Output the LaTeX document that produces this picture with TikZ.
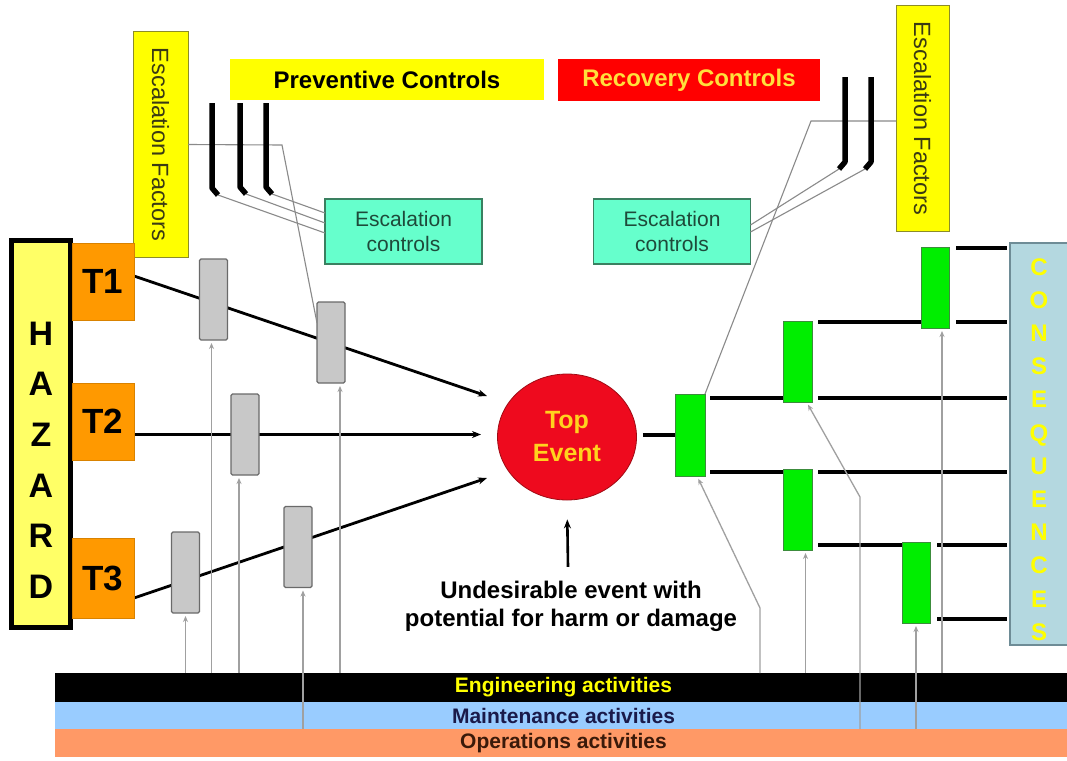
\documentclass[tikz,border=0pt]{standalone}
\usepackage{fontspec}
\setmainfont{Liberation Sans}
\usepackage{graphicx}
\usetikzlibrary{arrows.meta,shapes.geometric}
\pgfdeclarelayer{back}
\pgfdeclarelayer{bg}
\pgfsetlayers{back,bg,main}
\definecolor{yel}{HTML}{FFFF00}
\definecolor{yelbd}{HTML}{8C8C28}
\definecolor{eftxt}{HTML}{3A3A14}
\definecolor{hazfill}{HTML}{FFFF66}
\definecolor{orng}{HTML}{FF9900}
\definecolor{orngbd}{HTML}{D98200}
\definecolor{gbox}{HTML}{C8C8C8}
\definecolor{gboxbd}{HTML}{6A6A6A}
\definecolor{grn}{HTML}{00EE00}
\definecolor{grnbd}{HTML}{3C8C3C}
\definecolor{topred}{HTML}{EE0A1E}
\definecolor{topbd}{HTML}{A00A14}
\definecolor{toptxt}{HTML}{FFD21E}
\definecolor{recred}{HTML}{FF0000}
\definecolor{rectxt}{HTML}{FFE03C}
\definecolor{tealc}{HTML}{66FFCC}
\definecolor{tealbd}{HTML}{3A8060}
\definecolor{tealtxt}{HTML}{1E4A3A}
\definecolor{consc}{HTML}{B4D8E0}
\definecolor{consbd}{HTML}{6E8C96}
\definecolor{blueband}{HTML}{99CCFF}
\definecolor{salmon}{HTML}{FF9966}
\definecolor{lgray}{HTML}{A0A0A0}
\definecolor{thingray}{HTML}{8A8A8A}
\definecolor{navytxt}{HTML}{1A1A4A}
\definecolor{optxt}{HTML}{3A1A0A}
\begin{document}
\begin{tikzpicture}[x=1pt,y=-1pt,
  box/.style={rectangle,inner sep=0pt,outer sep=0pt},
  efbox/.style={box,fill=yel,draw=yelbd,line width=1pt,minimum width=55pt,minimum height=225pt,text=eftxt,font=\fontsize{23.5}{26}\selectfont},
  hdr/.style={box,font=\fontsize{24}{28}\bfseries},
  ecbox/.style={box,fill=tealc,draw=tealbd,line width=1.2pt,minimum width=157pt,minimum height=65pt,align=center,text=tealtxt,font=\fontsize{21}{25}\selectfont},
  hazbox/.style={box,fill=hazfill,draw=black,line width=5pt,minimum width=59pt,minimum height=387pt},
  tbox/.style={box,fill=orng,draw=orngbd,line width=0.6pt,minimum width=62pt,minimum height=77pt,font=\fontsize{35}{40}\bfseries},
  gbar/.style={box,fill=gbox,draw=gboxbd,line width=1.2pt,rounded corners=1.5pt,minimum width=28pt,minimum height=81pt},
  gnbar/.style={box,fill=grn,draw=grnbd,line width=1pt,minimum width=29pt,minimum height=81pt},
  bandn/.style={box,minimum width=1017pt,font=\fontsize{21}{24}\bfseries},
  tline/.style={line width=2.8pt,-{Stealth[length=9pt,width=7pt]}},
  bline/.style={line width=4pt},
  gline/.style={draw=lgray,line width=1.3pt},
  garrow/.style={gline,-{Stealth[length=6pt,width=5pt]},shorten >=3pt},
  thinl/.style={draw=thingray,line width=1.1pt},
  barl/.style={line width=5.5pt,line join=bevel}
]
\useasboundingbox (0,0) rectangle (1067,760);
\begin{pgfonlayer}{back}
\fill[white] (0,0) rectangle (1067,760);
\end{pgfonlayer}

% headers and escalation factors
\node[efbox] (efL) at (160.5,144.5) {\rotatebox{-90}{Escalation Factors}};
\node[efbox,minimum width=53pt] (efR) at (922.5,118.5) {\rotatebox{-90}{Escalation Factors}};
\node[hdr,fill=yel,minimum width=314pt,minimum height=41pt] (prev) at (387,79.5) {Preventive Controls};
\node[hdr,fill=recred,text=rectxt,minimum width=262pt,minimum height=42pt] (rec) at (689,80) {Recovery Controls};
\node[ecbox] (ecL) at (403.5,231.5) {Escalation\\controls};
\node[ecbox] (ecR) at (672,231.5) {Escalation\\controls};

% hazard and threats
\node[hazbox] (haz) at (41,434) {};
\node[box,align=center,font=\fontsize{34}{50.6}\bfseries] (hazt) at (41,460) {H\\A\\Z\\A\\R\\D};
\node[tbox] (T1) at (103,281.5) {T1};
\node[tbox] (T2) at (103,421.5) {T2};
\node[tbox,minimum height=80pt] (T3) at (103,578) {T3};

% preventive barriers
\node[gbar] (B1) at (213.5,299.5) {};
\node[gbar] (B2) at (331,342.5) {};
\node[gbar] (B3) at (245,434.5) {};
\node[gbar] (B4) at (185.5,572.5) {};
\node[gbar] (B5) at (298,547) {};

% top event
\node[ellipse,fill=topred,draw=topbd,line width=0.8pt,minimum width=139pt,minimum height=126pt,inner sep=0pt,align=center,text=toptxt,font=\fontsize{25}{33}\bfseries] (top) at (567,437) {Top\\Event};
\node[box,align=center,font=\fontsize{24}{28}\bfseries] (undes) at (571,606) {Undesirable event with\\potential for harm or damage};

% recovery barriers
\node[gnbar,minimum width=30pt,minimum height=82pt] (G1) at (690,435) {};
\node[gnbar] (G2) at (797.5,361.5) {};
\node[gnbar] (G3) at (797.5,509.5) {};
\node[gnbar,minimum width=28pt] (G4) at (935,287.5) {};
\node[gnbar,minimum width=28pt] (G5) at (916,582.5) {};

% consequences
\node[box,fill=consc,draw=consbd,line width=1.2pt,minimum width=62pt,minimum height=402pt] (cons) at (1041,444) {};
\node[box,align=center,text=yel,font=\fontsize{24}{33.2}\bfseries] (const) at (1039,449.5) {C\\O\\N\\S\\E\\Q\\U\\E\\N\\C\\E\\S};

% activity bands
\node[bandn,fill=black,text=yel,minimum height=29pt] (eng) at (563.5,687.5) {Engineering activities};
\node[bandn,fill=blueband,text=navytxt,minimum height=27pt] (mnt) at (563.5,715.5) {Maintenance activities};
\node[bandn,fill=salmon,text=optxt,minimum height=28pt] (ops) at (563.5,743) {Operations activities};

% ---------- connectors under the boxes ----------
\begin{pgfonlayer}{bg}
\coordinate (a1) at (487,396);
\coordinate (a2) at (481,434.5);
\coordinate (a3) at (487,478);
\draw[tline] ([yshift=5.5pt]T1.east) -- (a1);
\draw[tline] ([yshift=-13pt]T2.east) -- (a2);
\draw[tline] ([yshift=-20pt]T3.east) -- (a3);
\draw[bline] ([xshift=6pt]top.east |- G1.west) -- (G1.west);
\draw[bline] ([xshift=5pt,yshift=-4pt]G1.north east) -- (G2.west |- 0,398);
\draw[bline] ([xshift=6pt]G2.east |- 0,398) -- ([xshift=-3pt]cons.west |- 0,398);
\draw[bline] ([xshift=5pt,yshift=4pt]G1.south east) -- (G3.west |- 0,472);
\draw[bline] ([xshift=6pt]G3.east |- 0,472) -- ([xshift=-3pt]cons.west |- 0,472);
\draw[bline] ([xshift=6pt]G2.east |- 0,322) -- (G4.west |- 0,322);
\draw[bline] ([xshift=7pt]G4.east |- 0,322) -- ([xshift=-3pt]cons.west |- 0,322);
\draw[bline] ([xshift=7pt]G4.east |- 0,248) -- ([xshift=-3pt]cons.west |- 0,248);
\draw[bline] ([xshift=6pt]G3.east |- 0,545) -- (G5.west |- 0,545);
\draw[bline] ([xshift=7pt]G5.east |- 0,545) -- ([xshift=-3pt]cons.west |- 0,545);
\draw[bline] ([xshift=7pt]G5.east |- 0,619) -- ([xshift=-3pt]cons.west |- 0,619);
\end{pgfonlayer}

% escalation factor links
\coordinate (kL) at (282,145);
\coordinate (kR) at (811,121);
\draw[thinl] (efL.east) -- (kL) -- ([yshift=-21pt]B2.north west);
\draw[thinl] ([yshift=-2.5pt]efR.west) -- (kR) -- (G1.north east);

% escalation barriers (bars with hooks)
\coordinate (h1) at (218,195);
\coordinate (h2) at (246,194);
\coordinate (h3) at (272,194);
\coordinate (h4) at (839,169);
\coordinate (h5) at (865,169);
\draw[thinl] ([yshift=-1.5pt]ecL.west) -- (h1);
\draw[thinl] ([yshift=8.5pt]ecL.west) -- (h2);
\draw[thinl] ([yshift=18.5pt]ecL.west) -- (h3);
\draw[thinl] ([yshift=6.5pt]ecR.east) -- (h4);
\draw[thinl] ([yshift=-0.5pt]ecR.east) -- (h5);
\draw[barl] (212,103) -- (212,188) -- (h1);
\draw[barl] (240,103) -- (240,187) -- (h2);
\draw[barl] (266,103) -- (266,187) -- (h3);
\draw[barl] (845,77) -- (845,162) -- (h4);
\draw[barl] (871,77) -- (871,162) -- (h5);

% activity links
\draw[garrow] (B4.south |- eng.north) -- (B4.south);
\draw[garrow] ([xshift=-2pt]B1.south |- eng.north) -- ([xshift=-2pt]B1.south);
\draw[garrow] ([xshift=-6pt]B3.south |- eng.north) -- ([xshift=-6pt]B3.south);
\draw[garrow] ([xshift=5pt]B5.south |- mnt.south) -- ([xshift=5pt]B5.south);
\draw[garrow] ([xshift=9pt]B2.south |- eng.north) -- ([xshift=9pt]B2.south);
\coordinate (r1) at (760,608);
\coordinate (r2) at (860,497);
\draw[garrow] (r1 |- eng.north) -- (r1) -- ([xshift=7pt]G1.south);
\draw[garrow] ([xshift=8pt]G3.south |- eng.north) -- ([xshift=8pt]G3.south);
\draw[garrow] (r2 |- mnt.south) -- (r2) -- ([xshift=9pt]G2.south);
\draw[garrow] (G5.south |- mnt.south) -- (G5.south);
\draw[garrow] ([xshift=7pt]G4.south |- eng.north) -- ([xshift=7pt]G4.south);

% undesirable event arrow
\draw[line width=2.6pt,-{Stealth[length=9pt,width=7pt]},shorten >=19pt] (undes.north) ++(-3,-14) -- (top.south);
\end{tikzpicture}
\end{document}
